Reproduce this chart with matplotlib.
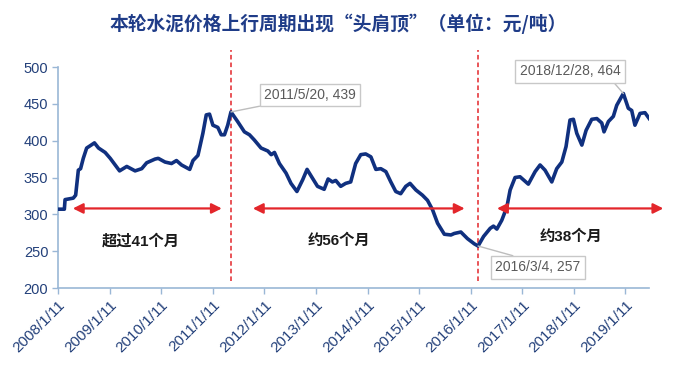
import matplotlib
matplotlib.use("Agg")
import matplotlib.pyplot as plt
import pandas as pd

plt.rcParams['font.family'] = ['Liberation Sans', 'Noto Sans CJK SC', 'DejaVu Sans']

TITLE = "本轮水泥价格上行周期出现“头肩顶”（单位：元/吨）"

# weekly price (yuan / ton)
dates = [
    "2008-01-11", "2008-02-25", "2008-03-01", "2008-04-28", "2008-05-15", "2008-06-03",
    "2008-06-19", "2008-07-08", "2008-08-01", "2008-08-25", "2008-09-25", "2008-10-24",
    "2008-12-10", "2009-01-15", "2009-02-15", "2009-03-22", "2009-05-12", "2009-07-10",
    "2009-08-26", "2009-09-30", "2009-11-28", "2009-12-21", "2010-02-07", "2010-03-25",
    "2010-04-29", "2010-06-04", "2010-08-01", "2010-08-24", "2010-09-28", "2010-11-02",
    "2010-11-26", "2010-12-19", "2011-01-12", "2011-02-16", "2011-03-12", "2011-04-04",
    "2011-04-27", "2011-05-20", "2011-07-06", "2011-08-23", "2011-09-28", "2011-11-01",
    "2011-12-19", "2012-02-05", "2012-02-29", "2012-03-23", "2012-04-27", "2012-06-13",
    "2012-07-18", "2012-08-29", "2012-10-09", "2012-11-09", "2012-12-11", "2013-01-22",
    "2013-03-10", "2013-04-07", "2013-05-07", "2013-05-31", "2013-07-05", "2013-08-09",
    "2013-09-14", "2013-10-19", "2013-11-24", "2013-12-29", "2014-02-04", "2014-03-11",
    "2014-04-15", "2014-05-21", "2014-06-25", "2014-07-30", "2014-09-03", "2014-10-09",
    "2014-11-08", "2014-12-20", "2015-02-04", "2015-03-12", "2015-04-17", "2015-05-22",
    "2015-07-09", "2015-08-25", "2015-09-17", "2015-11-03", "2015-12-20", "2016-02-06",
    "2016-03-04", "2016-04-12", "2016-05-29", "2016-06-21", "2016-07-15", "2016-08-19",
    "2016-09-24", "2016-10-17", "2016-11-21", "2016-12-26", "2017-02-23", "2017-04-12",
    "2017-05-17", "2017-06-21", "2017-08-08", "2017-09-12", "2017-10-18", "2017-11-17",
    "2017-12-15", "2018-01-08", "2018-02-01", "2018-03-09", "2018-04-08", "2018-05-18",
    "2018-06-23", "2018-07-28", "2018-08-13", "2018-09-13", "2018-10-18", "2018-11-11",
    "2018-12-16", "2018-12-28", "2019-02-01", "2019-02-25", "2019-03-20", "2019-04-25",
    "2019-05-30", "2019-06-29",
]
prices = [
    307, 307, 320, 322, 326, 360,
    362, 376, 390, 393, 397, 390,
    384, 376, 368, 359, 365, 359,
    362, 370, 375, 376, 371, 369,
    373, 367, 361, 373, 380, 410,
    435, 436, 421, 418, 408, 408,
    421, 439, 426, 412, 408, 401,
    390, 386, 381, 384, 369, 356,
    342, 331, 347, 361, 351, 338,
    334, 348, 344, 346, 338, 342,
    344, 369, 381, 382, 378, 361,
    362, 358, 344, 331, 328, 338,
    342, 333, 326, 319, 306, 288,
    273, 272, 274, 276, 267, 260,
    257, 270, 281, 284, 280, 292,
    310, 333, 350, 351, 341, 358,
    367, 360, 344, 362, 371, 392,
    428, 429, 410, 394, 414, 429,
    430, 424, 412, 426, 433, 448,
    460, 464, 444, 441, 421, 437,
    438, 430,
]

tick_dates = [f"{y}-01-11" for y in range(2008, 2020)]
tick_labels = [f"{y}/1/11" for y in range(2008, 2020)]

# turning points: head and shoulders
turn_dates = ["2011-05-20", "2016-03-04"]
callouts = [("2011-05-20", 439, "2011/5/20, 439"),
            ("2018-12-28", 464, "2018/12/28, 464"),
            ("2016-03-04", 257, "2016/3/4, 257")]

# duration arrows: start, end, label, label centre
spans = [("2008-04-25", "2011-03-16", "超过41个月", "2009-08-20", 263),
         ("2011-10-22", "2015-11-30", "约56个月", "2013-06-20", 264),
         ("2016-07-16", "2019-10-07", "约38个月", "2017-12-20", 270)]

NAVY = "#10307f"
RED = "#e3262b"
AXIS = "#9ab7d6"
TXT = "#23407a"
GREY = "#5a5a5a"

x = pd.to_datetime(dates)

fig = plt.figure(figsize=(6.8, 3.71), dpi=100)
ax = fig.add_axes([0.0853, 0.2237, 0.8690, 0.5957])

ax.plot(x, prices, color=NAVY, lw=2.6, solid_joinstyle="round", zorder=3)

ax.set_ylim(200, 500)
ax.set_yticks(range(200, 501, 50))
ax.set_xlim(pd.Timestamp("2008-01-11"), pd.Timestamp("2019-06-27"))
ax.set_xticks(pd.to_datetime(tick_dates))
ax.set_xticklabels(tick_labels, rotation=45, ha="right", rotation_mode="anchor")

for s in ("top", "right"):
    ax.spines[s].set_visible(False)
for s in ("left", "bottom"):
    ax.spines[s].set_color(AXIS)
    ax.spines[s].set_linewidth(1.2)
ax.tick_params(axis="both", colors=AXIS, length=4, width=1.0, direction="out")
ax.tick_params(axis="y", labelcolor=TXT, labelsize=10.5, pad=3)
ax.tick_params(axis="x", labelcolor=TXT, labelsize=11, pad=3)

for d in turn_dates:
    ax.plot([pd.Timestamp(d)] * 2, [210, 523], color=RED, lw=1.1,
            ls=(0, (3, 2)), clip_on=False, zorder=2)

for start, end, label, tx, ty in spans:
    ax.annotate("", xy=(pd.Timestamp(end), 308), xytext=(pd.Timestamp(start), 308),
                arrowprops=dict(arrowstyle="<|-|>", color=RED, lw=1.6,
                                mutation_scale=15, shrinkA=0, shrinkB=0),
                annotation_clip=False, zorder=4)
    ax.text(pd.Timestamp(tx), ty, label, fontsize=11, fontweight="bold",
            color="#1a1a1a", va="center", ha="center")

box = dict(boxstyle="square,pad=0.3", fc="white", ec="#c8c8c8", lw=1.0)
pos = {"2011/5/20, 439": ("2012-11-30", 462, (0.18, 0.0)),
       "2018/12/28, 464": ("2017-12-15", 494, (0.9, 0.0)),
       "2016/3/4, 257": ("2017-05-03", 228, (0.4, 1.0))}
for d, v, label in callouts:
    tx, ty, rp = pos[label]
    ax.annotate(label, xy=(pd.Timestamp(d), v), xytext=(pd.Timestamp(tx), ty),
                fontsize=10, color=GREY, ha="center", va="center", bbox=box,
                arrowprops=dict(arrowstyle="-", color="#bdbdbd", lw=1.0,
                                relpos=rp, shrinkA=0, shrinkB=0),
                annotation_clip=False, zorder=5)

fig.text(0.497, 0.935, TITLE, ha="center", va="center", fontsize=13.5,
         fontweight="bold", color="#1f3c88",
         family=["Noto Sans CJK SC", "DejaVu Sans"])

fig.savefig("out.png", dpi=100)
